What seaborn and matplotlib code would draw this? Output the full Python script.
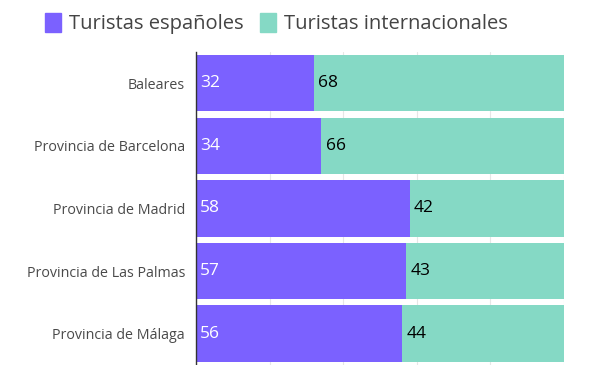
import pandas as pd
import numpy as np
import matplotlib.pyplot as plt
import seaborn as sns
from matplotlib.patches import Patch

sns.set_theme(style="white")
plt.rcParams["font.family"] = ["Open Sans", "DejaVu Sans"]

# data
provincias = ["Baleares", "Provincia de Barcelona", "Provincia de Madrid",
              "Provincia de Las Palmas", "Provincia de Málaga"]
espanoles = [32, 34, 58, 57, 56]
internacionales = [68, 66, 42, 43, 44]

purple = "#7b61ff"
teal = "#85d9c5"

df = pd.DataFrame({"prov": provincias, "esp": espanoles, "int": internacionales})
df["total"] = df["esp"] + df["int"]

fig = plt.figure(figsize=(6, 3.65), dpi=100)
ax = fig.add_axes([0.327, 0.0, 0.613, 0.858])

# stacked: draw total first (teal), then spanish on top (purple)
sns.barplot(data=df, y="prov", x="total", color=teal, width=0.9, saturation=1,
            ax=ax, orient="h")
sns.barplot(data=df, y="prov", x="esp", color=purple, width=0.9, saturation=1,
            ax=ax, orient="h")
for p in ax.patches:
    p.set_linewidth(0)

for i, (e, n) in enumerate(zip(espanoles, internacionales)):
    ax.text(1.0, i, str(e), color="white", va="center", ha="left", fontsize=12.5)
    ax.text(e + 1.2, i, str(n), color="black", va="center", ha="left", fontsize=12.5)

ax.set_xlim(0, 100)
ax.set_xticks([0, 20, 40, 60, 80, 100])
ax.grid(axis="x", color="#e6e6e6", linewidth=0.8)
ax.set_axisbelow(True)
ax.tick_params(axis="x", length=0, labelbottom=False)
ax.tick_params(axis="y", length=0, labelsize=10.3, labelcolor="#4a4a4a", pad=8)
ax.set_xlabel("")
ax.set_ylabel("")
for s in ["top", "right", "bottom"]:
    ax.spines[s].set_visible(False)
ax.spines["left"].set_color("#333333")
ax.spines["left"].set_linewidth(1)

handles = [Patch(color=purple, label="Turistas españoles"),
           Patch(color=teal, label="Turistas internacionales")]
fig.legend(handles=handles, loc="upper left", bbox_to_anchor=(0.045, 1.015), ncol=2,
           frameon=False, fontsize=14.5, handlelength=0.8, handleheight=1.1,
           handletextpad=0.4, columnspacing=0.8, labelcolor="#444444")

fig.savefig("out.png", dpi=100)
